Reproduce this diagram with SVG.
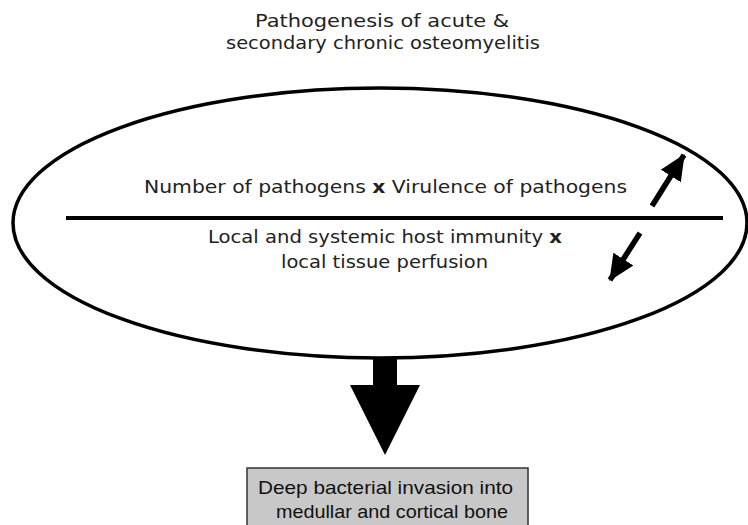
<svg xmlns="http://www.w3.org/2000/svg" width="748" height="525" viewBox="0 0 748 525">
<defs>
<style>
.t{font-family:"DejaVu Sans","Liberation Sans",sans-serif;font-size:18px;fill:#222;text-anchor:middle}
.b{font-family:"Liberation Sans",Arial,sans-serif;font-size:18.5px;fill:#111;text-anchor:middle}
.bold{font-weight:bold}
.arr{stroke:#000;stroke-width:5.5;fill:none}
</style>
<marker id="ah" markerUnits="userSpaceOnUse" markerWidth="26" markerHeight="26" refX="21" refY="10" orient="auto" viewBox="0 0 22 20">
<path d="M0,0 L22,10 L0,20 Z" fill="#000"/>
</marker>
</defs>
<rect width="748" height="525" fill="#fff"/>
<g id="title">
<text class="t" x="382" y="27" textLength="254" lengthAdjust="spacingAndGlyphs">Pathogenesis of acute &amp;</text>
<text class="t" x="383" y="49" textLength="314" lengthAdjust="spacingAndGlyphs">secondary chronic osteomyelitis</text>
</g>
<g id="ellipse-node">
<ellipse cx="380" cy="223" rx="367" ry="135" fill="none" stroke="#000" stroke-width="3.5"/>
<line x1="66" y1="218" x2="723" y2="218" stroke="#000" stroke-width="4"/>
<text class="t" x="385.5" y="193" textLength="483" lengthAdjust="spacingAndGlyphs">Number of pathogens <tspan class="bold">x</tspan> Virulence of pathogens</text>
<text class="t" x="385" y="243" textLength="354" lengthAdjust="spacingAndGlyphs">Local and systemic host immunity <tspan class="bold">x</tspan></text>
<text class="t" x="384.5" y="268" textLength="207" lengthAdjust="spacingAndGlyphs">local tissue perfusion</text>
</g>
<g id="result-node">
<rect x="247" y="468" width="281" height="70" fill="#c8c8c8" stroke="#333" stroke-width="1.5"/>
<text class="b" x="385.5" y="494" textLength="255" lengthAdjust="spacingAndGlyphs">Deep bacterial invasion into</text>
<text class="b" x="392" y="518" textLength="232" lengthAdjust="spacingAndGlyphs">medullar and cortical bone</text>
</g>
<g id="connectors">
<line class="arr" x1="652" y1="206" x2="684" y2="155" marker-end="url(#ah)"/>
<line class="arr" x1="640" y1="233" x2="610" y2="280" marker-end="url(#ah)"/>
<polygon points="373,357 397,357 397,385 420,385 385,455 350,385 373,385" fill="#000"/>
</g>
</svg>
